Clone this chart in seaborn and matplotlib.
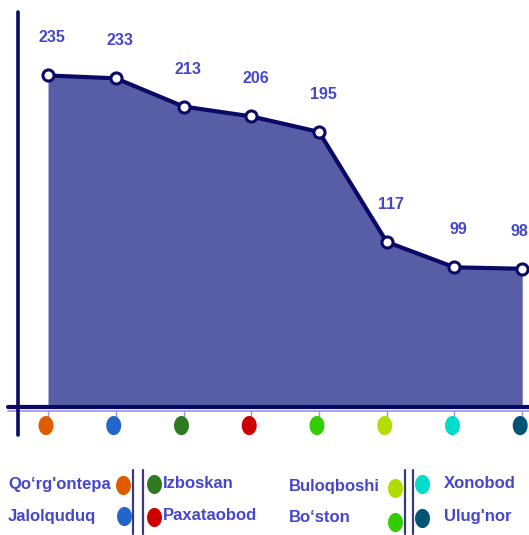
import numpy as np
import pandas as pd
import matplotlib
matplotlib.use("Agg")
import matplotlib.pyplot as plt
from matplotlib.path import Path
from matplotlib.transforms import blended_transform_factory
import seaborn as sns

# District names, their values and marker colours
districts = ["Qo‘rg'ontepa", "Jalolquduq", "Izboskan", "Paxataobod",
             "Bo‘ston", "Buloqboshi", "Xonobod", "Ulug'nor"]
values = [235, 233, 213, 206, 195, 117, 99, 98]
dot_colors = ["#e05a00", "#2266cc", "#2e7a22", "#cc0000",
              "#33cc00", "#b2dd00", "#00ddcc", "#005577"]

df = pd.DataFrame({"idx": np.arange(len(values)), "value": values})

sns.set_theme(style="white")
plt.rcParams["font.family"] = ["Liberation Sans", "DejaVu Sans"]

NAVY = "#0a0a66"
FILL = "#585ea6"
LABEL = "#4646cc"

fig = plt.figure(figsize=(5.29, 5.35), dpi=100)
ax = fig.add_axes([18 / 529, 128 / 535, 511 / 529, 395 / 535])
ax.set_xlim(-0.443, 7.1)
ax.set_ylim(0, 280)
ax.axis("off")

# filled area under the line
ax.fill_between(df["idx"], df["value"], 0, color=FILL, lw=0, zorder=1)
sns.lineplot(data=df, x="idx", y="value", ax=ax, color=NAVY, lw=3,
             marker="o", markersize=8, markerfacecolor="white",
             markeredgecolor=NAVY, markeredgewidth=2.2, zorder=3)
ax.set_xlabel("")
ax.set_ylabel("")

last = len(values) - 1
for x, v in zip(df["idx"], df["value"]):
    dx = 3 if x < last else -2
    ax.annotate(str(v), (x, v), xytext=(dx, 27), textcoords="offset points",
                ha="center", va="center", fontsize=11.5, fontweight="bold",
                color=LABEL, annotation_clip=False, zorder=4)

# axis lines
ax.plot([0, 0], [1.0, -0.072], transform=ax.transAxes, color=NAVY,
        lw=2.6, clip_on=False, zorder=5)
ax.plot([-0.02, 1.0], [0, 0], transform=ax.transAxes, color=NAVY,
        lw=3, clip_on=False, zorder=5)
ax.plot([-0.02, 1.0], [-0.011, -0.011], transform=ax.transAxes,
        color="#9a90f0", lw=1.2, clip_on=False, zorder=4)

# tall ellipse marker for the district dots
t = np.linspace(0, 2 * np.pi, 60)
ellipse = Path(np.column_stack([0.78 * np.cos(t), np.sin(t)]), closed=True)

trans = blended_transform_factory(ax.transData, ax.transAxes)
for x, c in zip(df["idx"], dot_colors):
    ax.plot([x, x], [-0.011, -0.03], transform=trans, color="#9a90f0",
            lw=1, clip_on=False, zorder=4)
ax.scatter(df["idx"] - 0.03, [-0.047] * len(values), transform=trans,
           marker=ellipse, s=190, c=dot_colors, clip_on=False, zorder=6,
           linewidths=0)

# key at the bottom: two blocks of names with coloured dots
def fig_xy(px, py):
    return px / 529, 1 - py / 535

text_kw = dict(fontsize=12, fontweight="bold", color=LABEL, va="center",
               family=["Liberation Sans", "DejaVu Sans"])
key = [
    (districts[0], 8, 485, dot_colors[0], 123, 485),
    (districts[1], 8, 516, dot_colors[1], 124, 516),
    (districts[2], 163, 484, dot_colors[2], 154, 484),
    (districts[3], 163, 516, dot_colors[3], 154, 517),
    (districts[5], 289, 486, dot_colors[5], 395, 488),
    (districts[4], 289, 518, dot_colors[4], 395, 522),
    (districts[6], 444, 484, dot_colors[6], 422, 484),
    (districts[7], 444, 517, dot_colors[7], 422, 518),
]
for name, tx, ty, col, dx, dy in key:
    fig.text(*fig_xy(tx, ty), name, ha="left", **text_kw)
    ax.scatter(*fig_xy(dx, dy), transform=fig.transFigure,
               marker=ellipse, s=190, color=col, clip_on=False,
               linewidths=0, zorder=6)

for bx in (133, 143, 405, 413):
    fig.add_artist(plt.Line2D([bx / 529, bx / 529],
                              [1 - 470 / 535, 1 - 534 / 535],
                              color="#3a3a7a", lw=1.6))

fig.savefig("out.png", dpi=100)
